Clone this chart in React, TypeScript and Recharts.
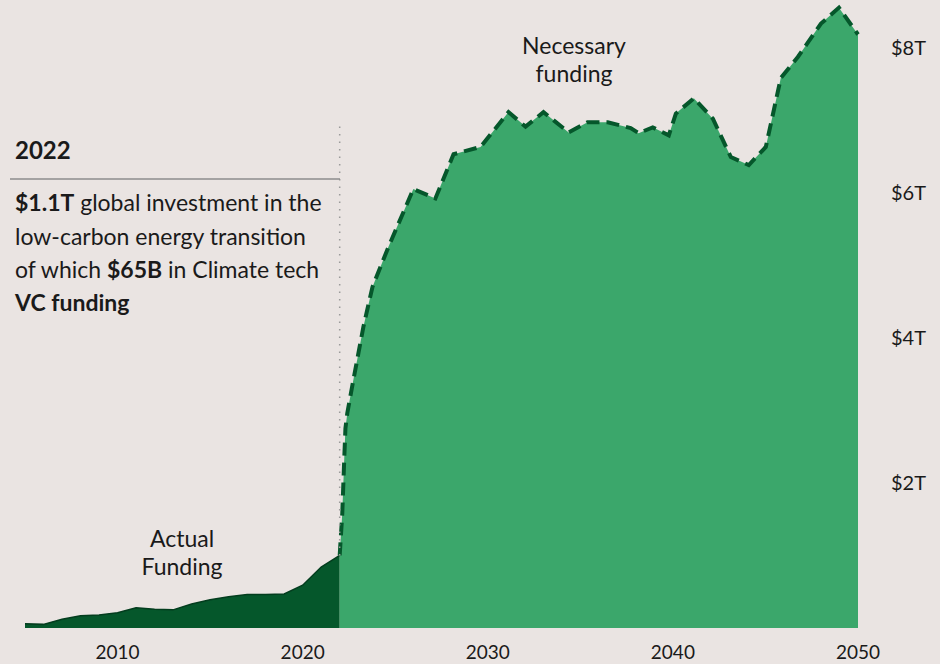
import React from 'react';
import { AreaChart, Area, XAxis, YAxis, ReferenceLine } from 'recharts';

// actual climate / energy transition investment, $T
const actualYears = [2005, 2006, 2007, 2008, 2009, 2010, 2011, 2012, 2013, 2014, 2015, 2016, 2017, 2018, 2019, 2020, 2021, 2022];
const actualValues = [0.06, 0.05, 0.12, 0.17, 0.18, 0.21, 0.28, 0.26, 0.25, 0.33, 0.39, 0.43, 0.46, 0.46, 0.47, 0.59, 0.84, 1.0];

// necessary funding path, $T
const necessaryYears = [
  2022, 2022.14, 2022.25, 2022.31, 2022.41, 2022.74, 2023.28, 2023.77, 2024.63, 2025.98,
  2027.17, 2028.15, 2029.61, 2031.12, 2032.04, 2033.01, 2034.37, 2035.39, 2036.48, 2037.72,
  2038.15, 2038.91, 2039.78, 2040.16, 2041.13, 2042.16, 2043.13, 2044.1, 2045.02, 2045.83,
  2046.75, 2048.0, 2048.97, 2050,
];
const necessaryValues = [
  1.0, 1.58, 2.36, 2.75, 2.96, 3.42, 4.15, 4.7, 5.25, 6.05,
  5.92, 6.53, 6.63, 7.11, 6.91, 7.11, 6.83, 6.97, 6.97, 6.89,
  6.82, 6.9, 6.79, 7.09, 7.3, 7.02, 6.49, 6.38, 6.63, 7.58,
  7.87, 8.33, 8.55, 8.18,
];

const xTicks = [2010, 2020, 2030, 2040, 2050];
const yTicks = [2, 4, 6, 8];

const BG = '#eae4e2';
const LIGHT = '#3ba76b';
const DARK = '#05572b';
const INK = '#1a1a1a';
const FONT = 'Lato, "Noto Sans", sans-serif';

const data = [
  ...actualYears.map((year, i) => ({ year, actual: actualValues[i] })),
  ...necessaryYears.map((year, i) =>
    i === 0 ? null : { year, necessary: necessaryValues[i] }
  ).filter(Boolean),
] as any[];
// the 2022 row carries both series
data[actualYears.length - 1].necessary = necessaryValues[0];

export default function App() {
  return (
    <div style={{ position: 'absolute', left: 0, top: 0, width: 940, height: 664, background: BG, fontFamily: FONT }}>
      <AreaChart width={940} height={664} data={data} margin={{ top: 4, right: 0, left: 25, bottom: 0 }}>
        <XAxis
          dataKey="year"
          type="number"
          domain={[2005, 2050]}
          ticks={xTicks}
          axisLine={false}
          tickLine={false}
          tickSize={0}
          tickMargin={18}
          height={36}
          tick={{ fill: INK, fontSize: 19, fontFamily: FONT }}
        />
        <YAxis
          orientation="right"
          type="number"
          domain={[0, 8.6]}
          ticks={yTicks}
          width={82}
          axisLine={false}
          tickLine={false}
          tickSize={0}
          tickMargin={33}
          tickFormatter={(v: number) => `$${v}T`}
          tick={{ fill: INK, fontSize: 20, fontFamily: FONT }}
        />
        <ReferenceLine
          segment={[{ x: 2022, y: 1.0 }, { x: 2022, y: 6.95 }]}
          stroke="#9a9a9a"
          strokeWidth={1.5}
          strokeDasharray="1.5 6"
        />
        <Area
          type="linear"
          dataKey="actual"
          stroke="#033d1e"
          strokeWidth={1.5}
          fill={DARK}
          fillOpacity={1}
          isAnimationActive={false}
        />
        <Area
          type="linear"
          dataKey="necessary"
          stroke={DARK}
          strokeWidth={4}
          strokeDasharray="13 7"
          fill={LIGHT}
          fillOpacity={1}
          isAnimationActive={false}
        />
      </AreaChart>
      <svg width={940} height={664} style={{ position: 'absolute', left: 0, top: 0, pointerEvents: 'none' }}>
        <g fontFamily={FONT} fill={INK}>
          <text x={15} y={159} fontSize={24} fontWeight={700}>2022</text>
          <line x1={10} x2={340} y1={179} y2={179} stroke="#8c8c8c" strokeWidth={1.5} />
          <text x={15} y={211} fontSize={23}>
            <tspan fontWeight={700}>$1.1T</tspan> global investment in the
          </text>
          <text x={15} y={245} fontSize={23}>low-carbon energy transition</text>
          <text x={15} y={278} fontSize={23}>
            of which <tspan fontWeight={700}>$65B</tspan> in Climate tech
          </text>
          <text x={15} y={311} fontSize={23} fontWeight={700}>VC funding</text>
          <text x={574} y={54} fontSize={23} textAnchor="middle">Necessary</text>
          <text x={574} y={82} fontSize={23} textAnchor="middle">funding</text>
          <text x={182} y={547} fontSize={23} textAnchor="middle">Actual</text>
          <text x={182} y={575} fontSize={23} textAnchor="middle">Funding</text>
        </g>
      </svg>
    </div>
  );
}
